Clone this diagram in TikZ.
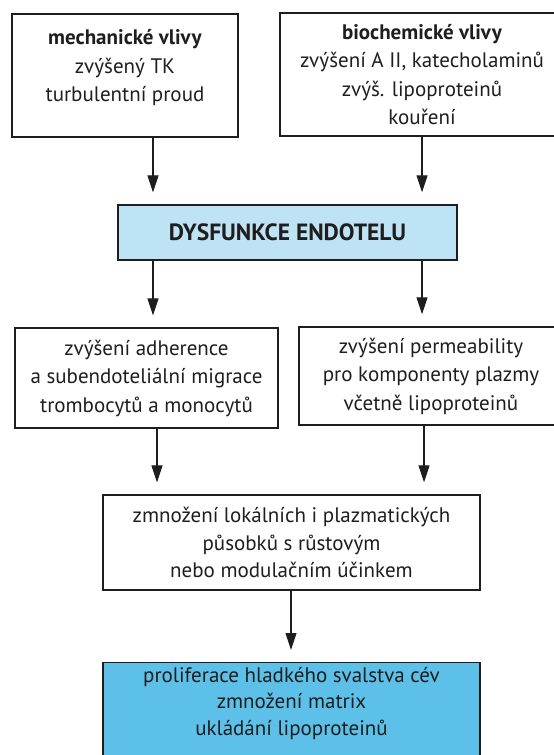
\documentclass[tikz,border=0pt]{standalone}
\usepackage{fontspec}
\setmainfont{PT Sans}
\usetikzlibrary{arrows.meta}
\definecolor{lightblue}{RGB}{190,227,245}
\definecolor{midblue}{RGB}{92,192,232}
\definecolor{inkc}{RGB}{30,30,30}
\tikzset{
  box/.style={draw=inkc, line width=1.4pt, align=center, inner sep=0pt,
    font=\fontsize{21}{28.5}\selectfont, text=inkc},
  arr/.style={draw=inkc, line width=1.1pt, -{Triangle[length=17pt,width=11pt]}, shorten >=12pt},
}
\begin{document}
\begin{tikzpicture}[x=1pt,y=1pt]
\useasboundingbox (0,0) rectangle (554,-755);
% row 1
\node[box, minimum width=226pt, minimum height=123pt] (mech) at (125,-75.5)
  {\textbf{mechanické vlivy}\\zvýšený TK\\turbulentní proud\rule[-20pt]{0pt}{20pt}};
\node[box, minimum width=284pt, minimum height=123pt] (bio) at (422,-74.5)
  {\textbf{biochemické vlivy}\\zvýšení A II, katecholaminů\\zvýš. lipoproteinů\\kouření};
% row 2
\node[box, fill=lightblue, minimum width=339pt, minimum height=55pt,
  font=\fontsize{23.5}{26}\selectfont\bfseries] (dys) at (287.5,-232.5) {DYSFUNKCE ENDOTELU};
% row 3
\node[box, minimum width=263pt, minimum height=100pt] (adh) at (146.5,-378)
  {zvýšení adherence\\a subendoteliální migrace\\trombocytů a monocytů};
\node[box, minimum width=264pt, minimum height=98pt] (perm) at (431,-376)
  {zvýšení permeability\\pro komponenty plazmy\\včetně lipoproteinů};
% row 4
\node[box, minimum width=377pt, minimum height=95pt, font=\fontsize{21}{27.5}\selectfont] (zmn) at (291.5,-542.5)
  {\rule{0pt}{12pt}zmnožení lokálních i plazmatických\\působků s růstovým\\nebo modulačním účinkem};
% row 5
\node[box, fill=midblue, minimum width=377pt, minimum height=120pt, anchor=north] (prol) at (291.5,-662) {};
\node[align=center, inner sep=0pt, anchor=north, font=\fontsize{21}{26.5}\selectfont, text=inkc] (prolt) at (291.5,-667)
  {proliferace hladkého svalstva cév\\zmnožení matrix\\ukládání lipoproteinů};
% connectors
\coordinate (xa) at (153,0);
\coordinate (xb) at (422,0);
\coordinate (xc) at (157,0);
\coordinate (xd) at (424,0);
\coordinate (xe) at (291,0);
\draw[arr] (mech.south -| xa) -- (dys.north -| xa);
\draw[arr] (bio.south -| xb) -- (dys.north -| xb);
\draw[arr] (dys.south -| xa) -- (adh.north -| xa);
\draw[arr] (dys.south -| xb) -- (perm.north -| xb);
\draw[arr] (adh.south -| xc) -- (zmn.north -| xc);
\draw[arr] (perm.south -| xd) -- (zmn.north -| xd);
\draw[arr] (zmn.south -| xe) -- (prol.north -| xe);
\end{tikzpicture}
\end{document}
